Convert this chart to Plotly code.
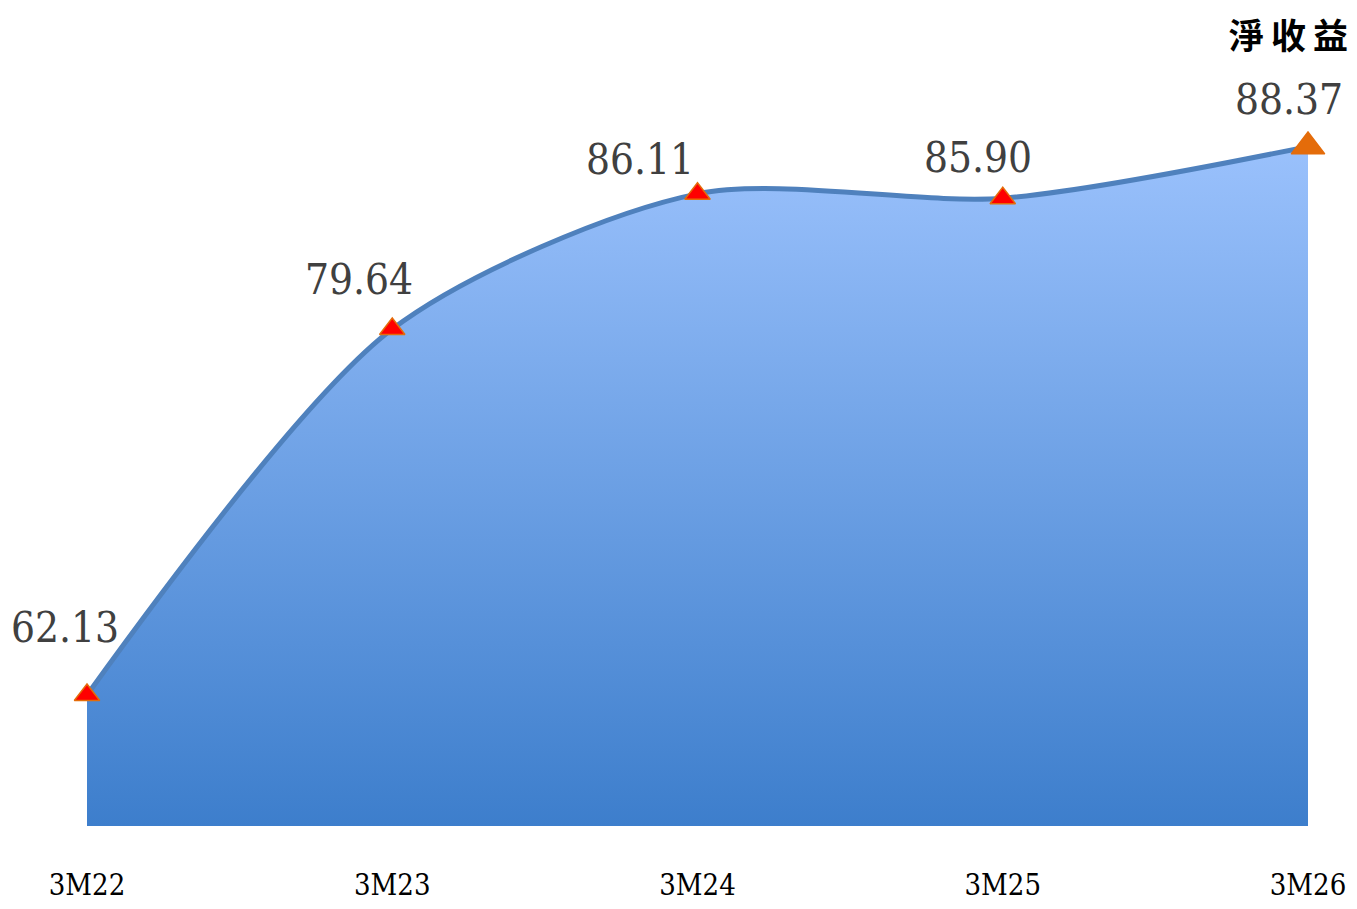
import plotly.graph_objects as go

categories = ["3M22", "3M23", "3M24", "3M25", "3M26"]
values = [62.13, 79.64, 86.11, 85.90, 88.37]
labels = ["62.13", "79.64", "86.11", "85.90", "88.37"]
title_text = "淨\u2009收\u2009益"

y_min = 55.86
y_max = 90.60

num_font = "DejaVu Serif Condensed, DejaVu Serif, Liberation Serif, serif"

fig = go.Figure()

fig.add_trace(go.Scatter(
    x=categories, y=values,
    mode="lines",
    line=dict(color="#4F81BD", width=5, shape="spline", smoothing=0.8),
    fill="tozeroy",
    fillgradient=dict(
        type="vertical",
        start=y_min, stop=values[-1],
        colorscale=[[0, "#3D7ECC"], [1, "#9AC1FC"]],
    ),
    hoverinfo="skip",
    showlegend=False,
))

marker_colors = ["#FF0000"] * (len(values) - 1) + ["#E46C0A"]
marker_sizes = [22] * (len(values) - 1) + [29]
fig.add_trace(go.Scatter(
    x=categories, y=values,
    mode="markers",
    cliponaxis=False,
    marker=dict(symbol="triangle-up", size=marker_sizes, color=marker_colors,
                opacity=1, line=dict(color="#E46C0A", width=1.5)),
    showlegend=False,
))

shifts = [(-22, 67), (-33, 50), (-58, 34), (-25, 41), (-19, 47)]
for cat, val, lab, (dx, dy) in zip(categories, values, labels, shifts):
    fig.add_annotation(
        x=cat, y=val, text=lab, showarrow=False,
        xshift=dx, yshift=dy, xanchor="center", yanchor="middle",
        font=dict(family=num_font, size=42, color="#404040"),
    )

fig.add_annotation(
    x=0.984, y=1.092, xref="paper", yref="paper",
    text=title_text, showarrow=False, xanchor="center", yanchor="middle",
    font=dict(family="Noto Sans CJK TC, Noto Sans CJK SC", size=35, color="#000000", weight="bold"),
)

fig.update_layout(
    width=1341, height=893,
    margin=dict(l=79, r=41, t=92, b=75),
    paper_bgcolor="white", plot_bgcolor="white",
    xaxis=dict(
        type="category", range=[0, len(categories) - 1],
        automargin=False,
        showgrid=False, zeroline=False, showline=False, ticks="",
        ticklabelstandoff=39,
        tickfont=dict(family=num_font, size=29, color="#000000"),
    ),
    yaxis=dict(
        range=[y_min, y_max], visible=False, showgrid=False, zeroline=False,
        automargin=False,
    ),
)

fig.write_html("out.html")
